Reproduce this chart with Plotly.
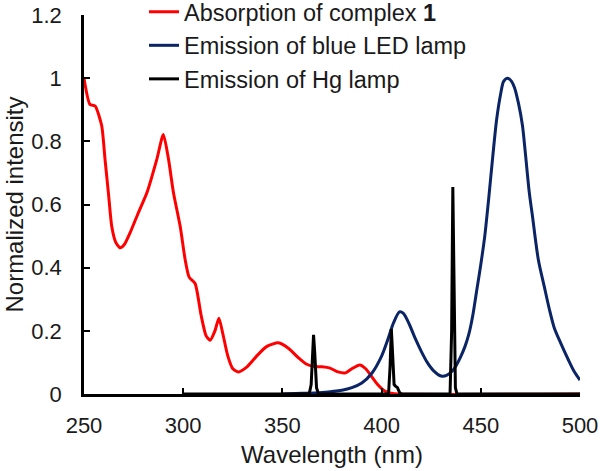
import plotly.graph_objects as go

# Absorption of complex 1 (red)
abs_wl = [250, 253, 255.6, 258.9, 260.6, 262.3, 264, 266, 268.2, 270.5, 273.2, 277.4, 281.7, 286.7, 290,
          292.6, 295.1, 298.5, 301, 303, 306, 309, 311.5, 313.6, 316, 318, 320, 322.5, 325, 327.8, 332,
          337, 342, 348, 353, 358, 362, 366, 370, 374, 378, 381.8, 385, 389, 392, 395, 398, 401, 404, 408, 500]
abs_int = [1.0, 0.917, 0.912, 0.85, 0.743, 0.637, 0.53, 0.48, 0.463, 0.475, 0.51, 0.574, 0.637, 0.743, 0.822,
           0.743, 0.637, 0.53, 0.425, 0.37, 0.35, 0.25, 0.185, 0.17, 0.2, 0.24, 0.19, 0.12, 0.08, 0.07, 0.085,
           0.12, 0.15, 0.162, 0.145, 0.115, 0.095, 0.087, 0.086, 0.082, 0.07, 0.067, 0.08, 0.092, 0.08, 0.055,
           0.03, 0.012, 0.003, 0.0, 0.0]

# Emission of blue LED lamp (navy)
led_wl = [350, 360, 370, 380, 385, 390, 395, 400, 403, 406, 409, 411, 414, 417, 420, 423, 426, 430, 433,
          436, 438, 440, 442, 444, 446, 448, 450, 452, 454, 456, 458, 460, 461.5, 463.5, 465.5, 467, 469, 471,
          472.5, 474.4, 476, 479, 482, 484.5, 487, 490, 494, 497, 500]
led_int = [0.0, 0.002, 0.005, 0.012, 0.02, 0.035, 0.065, 0.12, 0.17, 0.225, 0.26, 0.255, 0.22, 0.175, 0.135,
           0.1, 0.075, 0.057, 0.06, 0.075, 0.095, 0.12, 0.15, 0.19, 0.25, 0.33, 0.41, 0.5, 0.62, 0.75, 0.87,
           0.95, 0.99, 1.0, 0.99, 0.97, 0.92, 0.85, 0.76, 0.64, 0.565, 0.425, 0.34, 0.27, 0.21, 0.165, 0.11,
           0.072, 0.044]

# Emission of Hg lamp (black)
hg_wl = [300, 363.5, 364.5, 365.2, 365.7, 366.3, 367.2, 368.2, 403.5, 404.3, 404.9, 405.6, 406.3, 407, 408,
         409, 410, 434.5, 435.3, 435.9, 436.5, 437.2, 438, 500]
hg_int = [0.0, 0.0, 0.03, 0.14, 0.187, 0.13, 0.02, 0.0, 0.0, 0.09, 0.206, 0.12, 0.03, 0.025, 0.02,
          0.005, 0.0, 0.0, 0.2, 0.655, 0.3, 0.02, 0.0, 0.0]

x_ticks = [250, 300, 350, 400, 450, 500]
y_ticks = [0, 0.2, 0.4, 0.6, 0.8, 1, 1.2]

FONT = "Liberation Sans, Arial, sans-serif"

fig = go.Figure()
fig.add_trace(go.Scatter(x=abs_wl, y=abs_int, mode="lines", name="Absorption of complex <b>1</b>",
                         line=dict(color="#FF0000", width=3, shape="spline", smoothing=0.6),
                         legendgroup="a"))
fig.add_trace(go.Scatter(x=led_wl, y=led_int, mode="lines", name="Emission of blue LED lamp",
                         line=dict(color="#0A2466", width=3, shape="spline", smoothing=0.8),
                         legendgroup="b"))
fig.add_trace(go.Scatter(x=hg_wl, y=hg_int, mode="lines", name="Emission of Hg lamp",
                         line=dict(color="#000000", width=3),
                         legendgroup="c"))

fig.update_layout(
    width=600, height=471,
    margin=dict(l=84, r=20, t=15, b=77, autoexpand=False),
    paper_bgcolor="white", plot_bgcolor="white",
    font=dict(family=FONT, size=22, color="#1a1a1a"),
    showlegend=True,
    legend=dict(x=0.121, y=1.066, xanchor="left", yanchor="top",
                bgcolor="rgba(0,0,0,0)", font=dict(size=23.5),
                tracegroupgap=0, traceorder="grouped"),
    xaxis=dict(range=[250, 500], tickvals=x_ticks, ticks="inside", ticklen=6, tickwidth=2,
               tickcolor="black", showline=True, linecolor="black", linewidth=2.5,
               showgrid=False, zeroline=False, ticklabelstandoff=10, automargin=False,
               title=dict(text="Wavelength (nm)", standoff=10, font=dict(size=24))),
    yaxis=dict(range=[0, 1.2], tickvals=y_ticks, ticks="inside", ticklen=6, tickwidth=2,
               tickcolor="black", showline=True, linecolor="black", linewidth=2.5,
               showgrid=False, zeroline=False, ticklabelstandoff=15, automargin=False,
               title=dict(text="Normalized intensity", standoff=1, font=dict(size=24))),
)

fig.write_html("out.html", config={"displayModeBar": False},
               post_script="document.body.style.margin='0';")
